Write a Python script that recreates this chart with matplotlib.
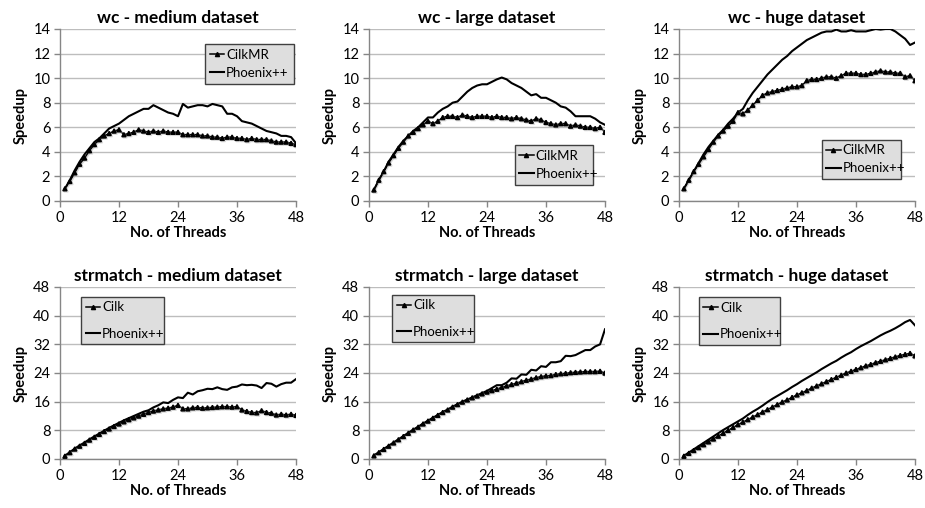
import matplotlib
matplotlib.use("Agg")
import matplotlib.pyplot as plt
import matplotlib.patheffects as pe

plt.rcParams['font.family'] = ['Lato', 'DejaVu Sans']

threads = list(range(1, 49))

titles = ["wc - medium dataset", "wc - large dataset", "wc - huge dataset",
          "strmatch - medium dataset", "strmatch - large dataset", "strmatch - huge dataset"]

wc_medium_cilk = [1.0, 1.6, 2.3, 3.0, 3.5, 4.1, 4.6, 5.0, 5.3, 5.5, 5.7, 5.8,
                  5.4, 5.5, 5.6, 5.8, 5.7, 5.6, 5.7, 5.6, 5.7, 5.6, 5.6, 5.6,
                  5.4, 5.4, 5.4, 5.4, 5.3, 5.3, 5.2, 5.2, 5.1, 5.2, 5.2, 5.1,
                  5.1, 5.0, 5.1, 5.0, 5.0, 5.0, 4.9, 4.8, 4.8, 4.8, 4.7, 4.6]
wc_medium_phx = [1.0, 1.7, 2.5, 3.2, 3.8, 4.3, 4.8, 5.1, 5.5, 5.9, 6.1, 6.3,
                 6.6, 6.9, 7.1, 7.3, 7.5, 7.5, 7.8, 7.6, 7.4, 7.2, 7.1, 6.9,
                 7.9, 7.6, 7.7, 7.8, 7.8, 7.7, 7.9, 7.8, 7.7, 7.1, 7.1, 6.9,
                 6.5, 6.4, 6.3, 6.1, 5.9, 5.7, 5.6, 5.5, 5.3, 5.3, 5.2, 4.7]

wc_large_cilk = [0.9, 1.7, 2.4, 3.1, 3.7, 4.3, 4.8, 5.3, 5.6, 5.9, 6.2, 6.5,
                 6.3, 6.5, 6.8, 6.9, 6.9, 6.8, 7.0, 6.9, 6.8, 6.9, 6.9, 6.9,
                 6.8, 6.9, 6.8, 6.8, 6.7, 6.8, 6.7, 6.6, 6.5, 6.7, 6.6, 6.4,
                 6.3, 6.2, 6.3, 6.3, 6.1, 6.2, 6.1, 6.0, 6.0, 5.9, 6.0, 5.6]
wc_large_phx = [0.9, 1.7, 2.4, 3.2, 3.8, 4.4, 4.9, 5.3, 5.7, 6.0, 6.4, 6.8,
                6.8, 7.2, 7.5, 7.7, 8.0, 8.1, 8.5, 8.9, 9.2, 9.4, 9.5, 9.5,
                9.7, 9.9, 10.05, 9.9, 9.6, 9.4, 9.2, 8.9, 8.6, 8.7, 8.4, 8.4,
                8.2, 8.0, 7.7, 7.6, 7.3, 6.9, 6.9, 6.9, 6.9, 6.7, 6.4, 6.2]

wc_huge_cilk = [1.0, 1.7, 2.4, 3.0, 3.6, 4.2, 4.8, 5.3, 5.7, 6.1, 6.5, 7.2,
                7.1, 7.4, 7.8, 8.2, 8.6, 8.8, 8.9, 9.0, 9.1, 9.2, 9.3, 9.3,
                9.4, 9.8, 9.9, 9.9, 10.0, 10.1, 10.1, 10.0, 10.2, 10.4, 10.4, 10.4,
                10.3, 10.3, 10.4, 10.5, 10.6, 10.5, 10.5, 10.4, 10.4, 10.1, 10.2, 9.8]
wc_huge_phx = [1.0, 1.7, 2.4, 3.1, 3.8, 4.4, 4.9, 5.4, 5.8, 6.3, 6.7, 7.2,
               7.5, 8.2, 8.8, 9.3, 9.8, 10.3, 10.7, 11.1, 11.5, 11.8, 12.2, 12.5,
               12.8, 13.1, 13.3, 13.5, 13.7, 13.8, 13.8, 13.95, 13.8, 13.8, 13.9, 13.8,
               13.8, 13.8, 13.9, 14.0, 13.95, 14.0, 14.0, 13.8, 13.5, 13.2, 12.7, 12.9]

sm_medium_cilk = [0.8, 1.8, 2.8, 3.6, 4.4, 5.3, 6.1, 6.9, 7.7, 8.4, 9.1, 9.8,
                  10.4, 11.0, 11.5, 12.0, 12.5, 13.0, 13.4, 13.7, 14.0, 14.2, 14.5, 15.0,
                  14.0, 14.0, 14.3, 14.4, 14.2, 14.3, 14.4, 14.5, 14.6, 14.6, 14.5, 14.6,
                  13.7, 13.3, 13.0, 12.9, 13.5, 13.0, 12.8, 12.3, 12.5, 12.3, 12.5, 12.2]
sm_medium_phx = [0.9, 1.9, 2.9, 3.8, 4.6, 5.5, 6.3, 7.1, 7.9, 8.7, 9.4, 10.1,
                 10.8, 11.4, 12.0, 12.6, 13.2, 13.6, 14.4, 15.0, 15.8, 15.6, 16.5, 17.2,
                 17.0, 18.5, 18.0, 18.9, 19.2, 19.6, 19.5, 20.0, 19.5, 19.3, 20.0, 20.2,
                 20.8, 20.6, 20.7, 20.5, 19.8, 21.2, 21.0, 20.2, 20.9, 21.3, 21.3, 22.3]

sm_large_cilk = [0.9, 1.8, 2.7, 3.6, 4.5, 5.4, 6.3, 7.2, 8.1, 8.9, 9.8, 10.6,
                 11.4, 12.2, 13.0, 13.7, 14.5, 15.2, 15.9, 16.5, 17.1, 17.6, 18.2, 18.7,
                 19.1, 19.5, 20.0, 20.4, 20.8, 21.2, 21.6, 22.0, 22.3, 22.7, 23.0, 23.2,
                 23.3, 23.6, 23.8, 23.9, 24.1, 24.2, 24.3, 24.4, 24.4, 24.4, 24.5, 24.0]
sm_large_phx = [1.0, 1.9, 2.8, 3.7, 4.6, 5.5, 6.4, 7.3, 8.2, 9.0, 9.9, 10.7,
                11.5, 12.3, 13.1, 13.8, 14.6, 15.3, 16.0, 16.6, 17.2, 17.8, 18.4, 19.0,
                19.8, 20.6, 20.6, 21.3, 22.5, 22.4, 23.6, 23.5, 24.9, 24.7, 25.9, 25.7,
                27.0, 27.0, 27.3, 28.8, 28.7, 29.0, 29.7, 30.4, 30.4, 31.4, 32.0, 36.2]

sm_huge_cilk = [0.8, 1.6, 2.4, 3.2, 4.0, 4.8, 5.6, 6.4, 7.2, 8.0, 8.8, 9.6,
                10.3, 11.0, 11.7, 12.4, 13.1, 13.8, 14.5, 15.2, 15.9, 16.5, 17.2, 17.9,
                18.5, 19.1, 19.8, 20.4, 21.0, 21.6, 22.2, 22.8, 23.4, 24.0, 24.5, 25.0,
                25.5, 26.0, 26.4, 26.9, 27.3, 27.7, 28.1, 28.5, 28.9, 29.2, 29.5, 28.8]
sm_huge_phx = [0.9, 1.8, 2.7, 3.6, 4.5, 5.4, 6.3, 7.2, 8.1, 8.9, 9.7, 10.5,
               11.3, 12.3, 13.2, 14.0, 14.9, 15.9, 16.8, 17.6, 18.4, 19.2, 20.1, 20.9,
               21.8, 22.6, 23.4, 24.2, 25.1, 25.9, 26.7, 27.4, 28.3, 29.1, 29.8, 30.7,
               31.5, 32.2, 32.9, 33.7, 34.5, 35.2, 35.8, 36.5, 37.3, 38.2, 38.8, 37.3]

cilk_series = [wc_medium_cilk, wc_large_cilk, wc_huge_cilk,
               sm_medium_cilk, sm_large_cilk, sm_huge_cilk]
phx_series = [wc_medium_phx, wc_large_phx, wc_huge_phx,
              sm_medium_phx, sm_large_phx, sm_huge_phx]
cilk_labels = ["CilkMR", "CilkMR", "CilkMR", "Cilk", "Cilk", "Cilk"]
phx_label = "Phoenix++"

wc_yticks = [0, 2, 4, 6, 8, 10, 12, 14]
sm_yticks = [0, 8, 16, 24, 32, 40, 48]
xticks = [0, 12, 24, 36, 48]

fig = plt.figure(figsize=(9.25, 5.08), dpi=100)

lefts = [60, 369, 679]
tops = [29, 287]
W, H = 236, 172
FW, FH = 925, 508

# legend boxes in axes fraction (x0, y0, w, h)
legend_boxes = [(0.614, 0.674, 0.376, 0.245), (0.617, 0.087, 0.332, 0.244),
                (0.604, 0.105, 0.336, 0.273), (0.089, 0.657, 0.352, 0.296),
                (0.097, 0.674, 0.346, 0.285), (0.084, 0.651, 0.342, 0.302)]

grid_c = '#bdbdbd'
spine_c = '#868686'

for i in range(6):
    r, c = divmod(i, 3)
    ax = fig.add_axes([lefts[c] / FW, 1 - (tops[r] + H) / FH, W / FW, H / FH])
    yt = wc_yticks if r == 0 else sm_yticks
    shadow = [pe.SimpleLineShadow(offset=(0.8, -0.8), shadow_color='#b0b0b0', alpha=0.5),
              pe.Normal()]
    ax.plot(threads, phx_series[i], color='black', lw=1.5, label=phx_label,
            zorder=3)
    ax.plot(threads, cilk_series[i], color='black', lw=1.1, marker='^',
            markersize=3.0, label=cilk_labels[i], path_effects=shadow, zorder=4)
    ax.set_xlim(0, 48)
    ax.set_ylim(yt[0], yt[-1])
    ax.set_xticks(xticks)
    ax.set_yticks(yt)
    ax.yaxis.grid(True, color=grid_c, lw=1.0)
    ax.set_axisbelow(True)
    for s in ['top', 'right']:
        ax.spines[s].set_visible(False)
    for s in ['left', 'bottom']:
        ax.spines[s].set_color(spine_c)
        ax.spines[s].set_linewidth(1.0)
    ax.tick_params(axis='both', colors=spine_c, labelcolor='black',
                   labelsize=10.5, length=4, width=1.0, direction='out', pad=3)
    ax.set_title(titles[i], fontsize=12.5, fontweight='bold', pad=4)
    ax.set_xlabel("No. of Threads", fontsize=10.5, fontweight='bold', labelpad=1)
    ax.set_ylabel("Speedup", fontsize=10.5, fontweight='bold', labelpad=4)

    handles, labels = ax.get_legend_handles_labels()
    leg = ax.legend(handles[::-1], labels[::-1], loc='center',
                    bbox_to_anchor=legend_boxes[i], mode='expand',
                    fontsize=9.5, frameon=True, fancybox=False,
                    handlelength=1.1, handletextpad=0.15,
                    labelspacing=0.45 if r == 0 else 1.1,
                    borderpad=0.35, borderaxespad=0)
    fr = leg.get_frame()
    fr.set_facecolor('#dedede')
    fr.set_edgecolor('#404040')
    fr.set_linewidth(1.0)
    fr.set_alpha(1)
    for ln in leg.get_lines():
        ln.set_path_effects([])
        ln.set_markersize(3.0)

fig.savefig("out.png", dpi=100)
